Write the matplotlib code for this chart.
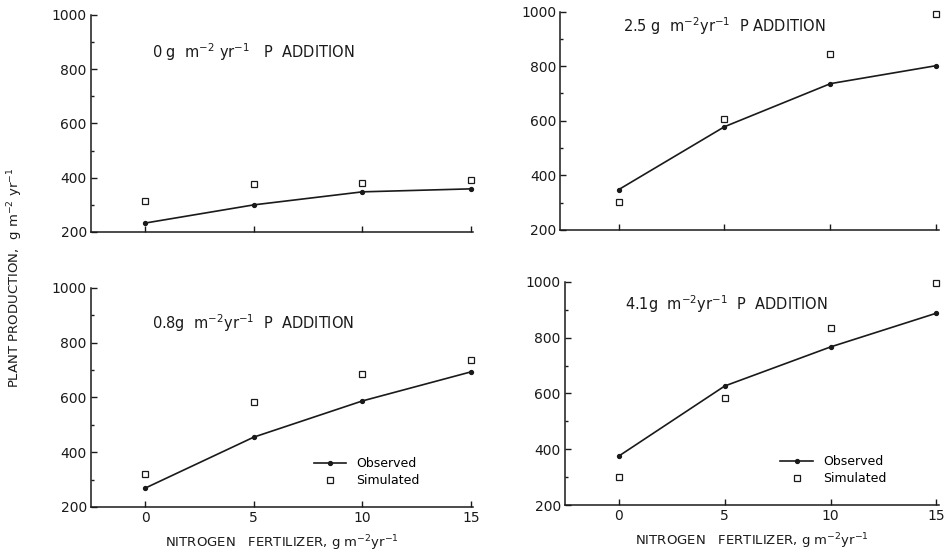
import matplotlib
matplotlib.use("Agg")
import matplotlib.pyplot as plt
from matplotlib.ticker import MultipleLocator

nitrogen = [0, 5, 10, 15]

panel_titles = [
    r"0 g  m$^{-2}$ yr$^{-1}$   P  ADDITION",
    r"2.5 g  m$^{-2}$yr$^{-1}$  P ADDITION",
    r"0.8g  m$^{-2}$yr$^{-1}$  P  ADDITION",
    r"4.1g  m$^{-2}$yr$^{-1}$  P  ADDITION",
]

observed_p0 = [233, 300, 348, 359]
simulated_p0 = [314, 377, 381, 392]

observed_p25 = [347, 578, 736, 802]
simulated_p25 = [303, 607, 846, 993]

observed_p08 = [269, 455, 587, 693]
simulated_p08 = [320, 583, 685, 737]

observed_p41 = [376, 627, 767, 888]
simulated_p41 = [300, 583, 834, 996]

y_ticks = [200, 400, 600, 800, 1000]
x_ticks = [0, 5, 10, 15]

plt.rcParams["font.family"] = "DejaVu Sans"
ink = "#1a1a1a"

fig = plt.figure(figsize=(9.48, 5.55), dpi=100)

axes_rects = [
    [0.096, 0.582, 0.403, 0.391],
    [0.591, 0.586, 0.399, 0.393],
    [0.096, 0.0865, 0.403, 0.395],
    [0.596, 0.090, 0.394, 0.402],
]
xlims = [(-2.5, 15.1), (-2.75, 15.1), (-2.5, 15.1), (-2.55, 15.1)]
title_pos = [(0.16, 0.88), (0.165, 0.985), (0.16, 0.89), (0.16, 0.95)]
legend_anchor = (0.89, 0.04)
series = [
    (observed_p0, simulated_p0),
    (observed_p25, simulated_p25),
    (observed_p08, simulated_p08),
    (observed_p41, simulated_p41),
]

for i, (rect, xl, tp, (obs, sim), title) in enumerate(
        zip(axes_rects, xlims, title_pos, series, panel_titles)):
    ax = fig.add_axes(rect)
    ax.plot(nitrogen, obs, color=ink, lw=1.2, marker="o", ms=2.8,
            clip_on=False, label="Observed")
    ax.plot(nitrogen, sim, ls="none", marker="s", ms=4.5, mfc="white",
            mec=ink, mew=0.9, clip_on=False, label="Simulated")
    ax.set_xlim(*xl)
    ax.set_ylim(200, 1000)
    ax.set_yticks(y_ticks)
    ax.yaxis.set_minor_locator(MultipleLocator(100))
    ax.set_xticks(x_ticks)
    for s in ("top", "right"):
        ax.spines[s].set_visible(False)
    for s in ("left", "bottom"):
        ax.spines[s].set_color(ink)
        ax.spines[s].set_linewidth(1.1)
    ax.tick_params(axis="both", which="major", direction="in", length=4,
                   width=1.0, color=ink, labelsize=10, labelcolor=ink, pad=3)
    ax.tick_params(axis="y", which="minor", direction="in", length=2.5,
                   width=1.0, color=ink)
    if i < 2:
        ax.tick_params(axis="x", labelbottom=False)
    else:
        ax.set_xlabel(r"NITROGEN   FERTILIZER, g m$^{-2}$yr$^{-1}$",
                      fontsize=9.5, color=ink, labelpad=6)
        ax.legend(loc="lower right", bbox_to_anchor=legend_anchor,
                  frameon=False, fontsize=9, handlelength=2.6,
                  labelspacing=0.3, handletextpad=0.8)
    ax.text(tp[0], tp[1], title, transform=ax.transAxes, fontsize=10.5,
            color=ink, va="top", ha="left")

fig.text(0.016, 0.5, r"PLANT PRODUCTION,  g m$^{-2}$ yr$^{-1}$",
         rotation=90, va="center", ha="center", fontsize=9.5, color=ink)

fig.savefig("out.png", dpi=100, facecolor="white")
